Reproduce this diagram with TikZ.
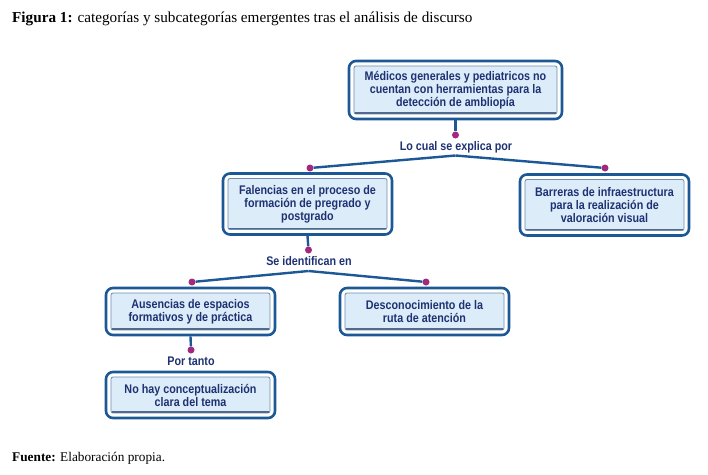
\documentclass[tikz,border=0pt]{standalone}
\usepackage{fontspec}
\setmainfont{Liberation Serif}
\newfontfamily\boxfont[FakeStretch=0.86]{Liberation Sans}
\usepackage{tikz}
\usetikzlibrary{calc,positioning}
\definecolor{frameblue}{RGB}{28,88,150}
\definecolor{textnavy}{RGB}{30,50,115}
\definecolor{innerfill}{RGB}{221,236,249}
\definecolor{innerline}{RGB}{110,140,175}
\definecolor{shadowblue}{RGB}{80,105,140}
\definecolor{dotcolor}{RGB}{163,40,127}

\begin{document}
\begin{tikzpicture}[x=1pt, y=-1pt,
  catbox/.style={draw=frameblue, line width=2.6pt, rounded corners=7pt,
    fill=white, minimum width=169pt, align=center, inner sep=0pt,
    font=\boxfont\bfseries\fontsize{12.5}{13}\selectfont, text=textnavy,
    path picture={
      \draw[fill=innerfill, draw=innerline, line width=0.8pt, rounded corners=2pt]
        ([shift={(5pt,-5pt)}]path picture bounding box.north west) rectangle
        ([shift={(-5pt,5pt)}]path picture bounding box.south east);
      \draw[shadowblue, line width=1.8pt]
        ([shift={(6pt,6pt)}]path picture bounding box.south west) --
        ([shift={(-6pt,6pt)}]path picture bounding box.south east);
    }},
  linklabel/.style={font=\boxfont\bfseries\fontsize{12.5}{13}\selectfont,
    text=textnavy, inner sep=1pt},
  dot/.style={circle, fill=dotcolor, inner sep=0pt, minimum size=7pt},
  link/.style={frameblue, line width=2.4pt},
]
  \useasboundingbox (0,0) rectangle (708,474);

  % caption and source
  \node[anchor=base west, inner sep=0pt, font=\fontsize{15.2}{16}\selectfont]
    (caption) at (12,22) {\textbf{Figura 1:} categorías y subcategorías emergentes tras el análisis de discurso};
  \node[anchor=base west, inner sep=0pt, font=\fontsize{13.3}{15}\selectfont]
    (source) at (12,461) {\textbf{Fuente:} Elaboración propia.};

  % boxes
  \node[catbox, minimum width=213pt, minimum height=58pt] (medicos) at (455.5,90)
    {Médicos generales y pediatricos no\\cuentan con herramientas para la\\detección de ambliopía};
  \node[catbox, minimum height=61pt] (falencias) at (307.5,204)
    {Falencias en el proceso de\\formación de pregrado y\\postgrado};
  \node[catbox, minimum height=61pt] (barreras) at (604.5,205)
    {Barreras de infraestructura\\para la realización de\\valoración visual};
  \node[catbox, minimum height=47pt] (ausencias) at (190.5,311.5)
    {Ausencias de espacios\\formativos y de práctica};
  \node[catbox, minimum height=47pt] (descon) at (424.5,311.5)
    {Desconocimiento de la\\ruta de atención};
  \node[catbox, minimum height=46pt] (nohay) at (190.5,395)
    {No hay conceptualización\\clara del tema};

  % link labels
  \node[linklabel] (explica) at (456,147) {Lo cual se explica por};
  \node[linklabel] (identif) at (309,261) {Se identifican en};
  \node[linklabel] (portanto) at (191,361) {Por tanto};

  % dots and joints
  \node[dot] (d1) at (455.5,135) {};
  \node[dot] (d2) at (310,168) {};
  \node[dot] (d3) at (605,168) {};
  \node[dot] (d4) at (308.5,250) {};
  \node[dot] (d5) at (192,282) {};
  \node[dot] (d6) at (426,282) {};
  \node[dot] (d7) at (191,350) {};
  \coordinate (j1) at (455.5,155.5);
  \coordinate (j2) at (308.5,271);

  % connectors
  \draw[link] (medicos.south) -- (d1);
  \draw[link] (j1) -- (d2);
  \draw[link] (j1) -- (d3);
  \draw[link] (falencias.south) -- (d4);
  \draw[link] (j2) -- (d5);
  \draw[link] (j2) -- (d6);
  \draw[link] (ausencias.south) -- (d7);
\end{tikzpicture}
\end{document}
